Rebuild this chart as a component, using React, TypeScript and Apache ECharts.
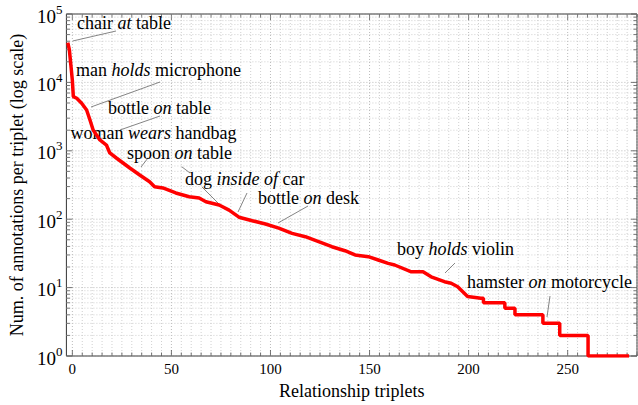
import React, { useEffect, useRef } from "react";
import * as echarts from "echarts";

// ---- data ----
const curveX = [
  -2.3, -1.5, -0.85, 0, 0.5, 2.2, 4.7, 7.2, 8.9, 10.5, 13.9, 17.2, 18.9, 22.2, 25.6, 29, 34, 39, 41.5, 45.7,
  52.2, 59, 64, 67.4, 74.1, 79.1, 84.1, 90.8, 97.5, 104.2, 110.9, 117.6, 124.3, 131, 137.6, 142.7, 149.4,
  154.4, 159.4, 162.7, 171.1, 177, 181.1, 187.8, 191.2, 194.5, 199.5, 206.2, 207.5, 207.5, 218.3, 218.3,
  223.4, 223.4, 237.5, 237.5, 246, 246, 260.3, 260.3, 281,
];
const curveY = [
  38000, 29800, 19200, 10800, 6200, 5860, 4950, 3950, 2820, 2015, 1440, 1215, 930, 785, 663, 560, 443, 353, 298, 286,
  242, 213, 204, 180, 161, 136, 107, 95, 85, 74, 62, 55.5, 46.9, 39.6, 34.6, 30, 28.3,
  25.3, 22.6, 21.4, 17, 17, 14.4, 12.2, 11.6, 10.3, 7.4, 7, 7, 6, 6, 5,
  5, 4, 4, 3, 3, 2, 2, 1, 1,
];

const xTickLabels = [0, 50, 100, 150, 200, 250];
const yTickLabels = [1, 10, 100, 1000, 10000, 100000];
const xMin = -3;
const xMax = 285;
const xMinorStep = 5;

// annotations: [normal, italic, normal], left, baseline
const annotations: { parts: [string, string, string]; x: number; y: number }[] = [
  { parts: ["chair ", "at", " table"], x: 77, y: 29 },
  { parts: ["man ", "holds", " microphone"], x: 76, y: 76 },
  { parts: ["bottle ", "on", " table"], x: 108, y: 114 },
  { parts: ["woman ", "wears", " handbag"], x: 70.5, y: 139 },
  { parts: ["spoon ", "on", " table"], x: 127, y: 158.5 },
  { parts: ["dog ", "inside of", " car"], x: 185, y: 184.5 },
  { parts: ["bottle ", "on", " desk"], x: 258, y: 204 },
  { parts: ["boy ", "holds", " violin"], x: 397, y: 255 },
  { parts: ["hamster ", "on", " motorcycle"], x: 467, y: 287.5 },
];
const leaders: [number, number, number, number][] = [
  [72.7, 41, 116, 31],
  [91, 107, 160, 82],
  [120, 130, 160, 116],
  [141, 167, 148, 158],
  [181.7, 166.7, 190, 173],
  [202, 187, 218, 203],
  [238, 212, 247, 193],
  [278, 223, 308, 206],
  [445, 273, 455, 263],
  [547, 317, 550, 296],
];

const FONT = "Liberation Serif";

export default function App() {
  const ref = useRef<HTMLDivElement>(null);
  useEffect(() => {
    document.body.style.margin = "0";
    const chart = echarts.init(ref.current!, null, { renderer: "svg" });

    const xGrid: number[] = [];
    for (let v = 0; v <= xMax; v += xMinorStep) xGrid.push(v);
    const yGrid: { v: number; major: boolean }[] = [];
    for (let d = 0; d < yTickLabels.length; d++) {
      const base = yTickLabels[d];
      yGrid.push({ v: base, major: true });
      if (d < yTickLabels.length - 1) for (let k = 2; k <= 9; k++) yGrid.push({ v: base * k, major: false });
    }

    const option: any = {
      animation: false,
      textStyle: { fontFamily: FONT },
      grid: { left: 63, right: 1, top: 14, bottom: 49, show: true, borderColor: "#333", borderWidth: 1, backgroundColor: "transparent" },
      xAxis: {
        type: "value",
        min: xMin,
        max: xMax,
        name: "Relationship triplets",
        nameLocation: "middle",
        nameGap: 26,
        nameTextStyle: { fontFamily: FONT, fontSize: 18, color: "#000" },
        axisLine: { show: false },
        axisTick: { show: false },
        splitLine: { show: false },
        axisLabel: { customValues: xTickLabels, fontFamily: FONT, fontSize: 15, color: "#000", margin: 5 },
      },
      yAxis: {
        type: "log",
        logBase: 10,
        min: 1,
        max: 100000,
        name: "Num. of annotations per triplet (log scale)",
        nameLocation: "middle",
        nameGap: 37,
        nameTextStyle: { fontFamily: FONT, fontSize: 18, color: "#000" },
        axisLine: { show: false },
        axisTick: { show: false },
        splitLine: { show: false },
        axisLabel: {
          customValues: yTickLabels,
          margin: 4,
          fontFamily: FONT,
          formatter: (v: number) => `{b|10}{s|${Math.round(Math.log10(v))}}`,
          rich: {
            b: { fontFamily: FONT, fontSize: 19, color: "#000", padding: [4, 0, 0, 0], verticalAlign: "bottom" },
            s: { fontFamily: FONT, fontSize: 13, color: "#000", verticalAlign: "top" },
          },
        },
      },
      series: [
        {
          type: "custom",
          z: 1,
          silent: true,
          clip: false,
          data: [[0, 1]],
          renderItem: (params: any, api: any) => {
            const cs = params.coordSys;
            const children: any[] = [];
            const top = cs.y, bottom = cs.y + cs.height, left = cs.x, right = cs.x + cs.width;
            for (const v of xGrid) {
              const px = api.coord([v, 1])[0];
              const major = v % 50 === 0;
              children.push({ type: "line", shape: { x1: px, y1: top, x2: px, y2: bottom }, style: { stroke: major ? "#aaa" : "#c4c4c4", lineWidth: 0.8, lineDash: [1, 2] } });
              const len = major ? 6 : 3.5;
              children.push({ type: "line", shape: { x1: px, y1: bottom, x2: px, y2: bottom - len }, style: { stroke: "#555", lineWidth: 0.8 } });
              children.push({ type: "line", shape: { x1: px, y1: top, x2: px, y2: top + len }, style: { stroke: "#555", lineWidth: 0.8 } });
            }
            for (const g of yGrid) {
              const py = api.coord([0, g.v])[1];
              children.push({ type: "line", shape: { x1: left, y1: py, x2: right, y2: py }, style: { stroke: g.major ? "#aaa" : "#c4c4c4", lineWidth: 0.8, lineDash: [1, 2] } });
              const len = g.major ? 6 : 3.5;
              children.push({ type: "line", shape: { x1: left, y1: py, x2: left + len, y2: py }, style: { stroke: "#555", lineWidth: 0.8 } });
              children.push({ type: "line", shape: { x1: right, y1: py, x2: right - len, y2: py }, style: { stroke: "#555", lineWidth: 0.8 } });
            }
            return { type: "group", children };
          },
        },
        {
          type: "line",
          z: 3,
          symbol: "none",
          silent: true,
          lineStyle: { color: "#ff0000", width: 3.5 },
          data: curveX.map((x, i) => [x, curveY[i]]),
        },
      ],
      graphic: [
        ...leaders.map((l) => ({
          type: "line",
          z: 2,
          silent: true,
          shape: { x1: l[0], y1: l[1], x2: l[2], y2: l[3] },
          style: { stroke: "#666", lineWidth: 0.8 },
        })),
        ...annotations.map((a) => ({
          type: "text",
          z: 2,
          silent: true,
          x: a.x,
          y: a.y - 6,
          style: {
            text: `{n|${a.parts[0]}}{i|${a.parts[1]}}{n|${a.parts[2]}}`,
            verticalAlign: "middle",
            align: "left",
            fill: "#000",
            font: `18px ${FONT}`,
            fontFamily: FONT,
            fontSize: 18,
            rich: {
              n: { fontFamily: FONT, fontSize: 18, fill: "#000", fontStyle: "normal", font: `normal 18px ${FONT}` },
              i: { fontFamily: FONT, fontSize: 18, fill: "#000", fontStyle: "italic", font: `italic 18px ${FONT}` },
            },
          },
        })),
      ],
    };
    chart.setOption(option);
    return () => chart.dispose();
  }, []);
  return <div ref={ref} style={{ width: 638, height: 405 }} />;
}
